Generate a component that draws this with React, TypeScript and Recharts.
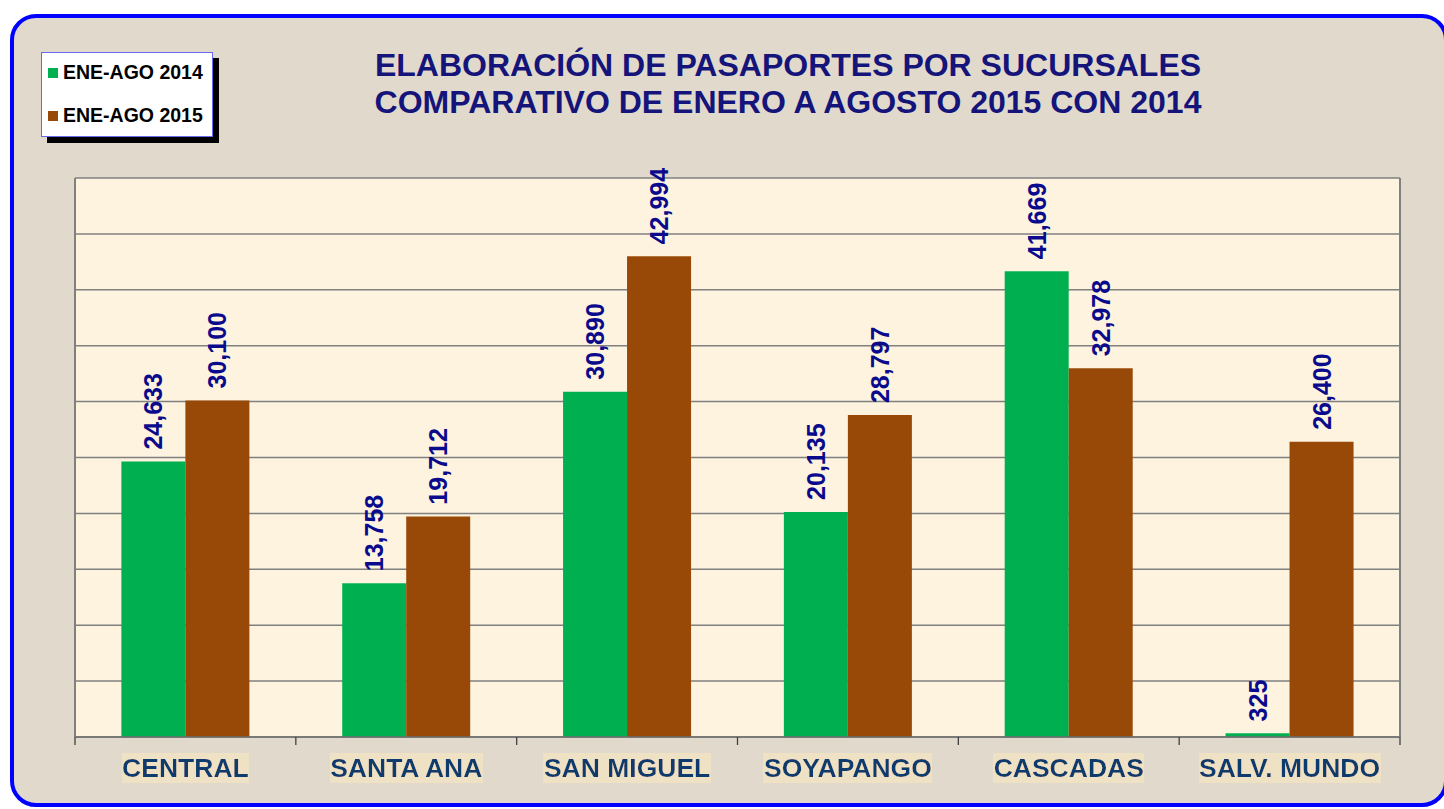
import React from "react";
import {
  BarChart,
  Bar,
  XAxis,
  YAxis,
  CartesianGrid,
  LabelList,
  Legend,
} from "recharts";

const categories = ["CENTRAL", "SANTA ANA", "SAN MIGUEL", "SOYAPANGO", "CASCADAS", "SALV. MUNDO"];
const values2014 = [24633, 13758, 30890, 20135, 41669, 325];
const values2015 = [30100, 19712, 42994, 28797, 32978, 26400];
const yTicks = [0, 5000, 10000, 15000, 20000, 25000, 30000, 35000, 40000, 45000, 50000];
const seriesNames = ["ENE-AGO 2014", "ENE-AGO 2015"];
const titleLines = [
  "ELABORACIÓN DE PASAPORTES POR SUCURSALES",
  "COMPARATIVO DE ENERO A AGOSTO 2015 CON 2014",
];

const data = categories.map((c, i) => ({ name: c, a: values2014[i], b: values2015[i] }));

const GREEN = "#00B050";
const BROWN = "#984807";
const FONT = "'Liberation Sans', Arial, sans-serif";

const fmt = (v: number) => v.toLocaleString("en-US");

const EmptyTick = () => <g />;

const ValueLabel = (props: any) => {
  const { x, y, width, value } = props;
  const cx = x + width / 2;
  const ty = y - 12;
  return (
    <text
      x={cx}
      y={ty}
      transform={`rotate(-90, ${cx}, ${ty})`}
      textAnchor="start"
      dominantBaseline="central"
      fill="#0A0A8C"
      fontFamily={FONT}
      fontWeight="bold"
      fontSize={25}
    >
      {fmt(value)}
    </text>
  );
};

const CatTick = (props: any) => {
  const { x, y, payload, index, width, visibleTicksCount } = props;
  const bw = width / visibleTicksCount;
  const last = index === visibleTicksCount - 1;
  return (
    <g>
      <line x1={x - bw / 2} x2={x - bw / 2} y1={y} y2={y + 8} stroke="#404040" strokeWidth={1.3} />
      {last && <line x1={x + bw / 2} x2={x + bw / 2} y1={y} y2={y + 8} stroke="#404040" strokeWidth={1.3} />}
      <text
        x={x}
        y={y + 40}
        textAnchor="middle"
        fill="#0B3A6E"
        fontFamily={FONT}
        fontWeight="bold"
        fontSize={26.5}
        filter="url(#catbg)"
      >
        {payload.value}
      </text>
    </g>
  );
};

const LegendBox = () => (
  <div
    style={{
      width: 170,
      height: 83,
      background: "#FFFFFF",
      border: "1px solid #6A6AF0",
      boxShadow: "6px 6px 0 #000000",
      fontFamily: FONT,
      fontWeight: "bold",
      fontSize: 19.5,
      color: "#000",
      position: "relative",
    }}
  >
    {seriesNames.map((n, i) => (
      <div
        key={n}
        style={{ position: "absolute", left: 6, top: i === 0 ? 8 : 51, display: "flex", alignItems: "center", whiteSpace: "nowrap" }}
      >
        <span style={{ display: "inline-block", width: 10, height: 10, background: i === 0 ? GREEN : BROWN, marginRight: 5 }} />
        {n}
      </div>
    ))}
  </div>
);

export default function App() {
  return (
    <div style={{ position: "absolute", left: 0, top: 0, width: 1444, height: 809, overflow: "hidden", background: "#FFFFFF" }}>
      <div
        style={{
          position: "absolute",
          left: 10,
          top: 14,
          width: 1438,
          height: 793,
          boxSizing: "border-box",
          border: "4px solid #0000FF",
          borderRadius: 26,
          background: "#E1DACC",
        }}
      />
      <div
        style={{
          position: "absolute",
          left: 238,
          width: 1100,
          top: 47,
          textAlign: "center",
          fontFamily: FONT,
          fontWeight: "bold",
          fontSize: 32,
          lineHeight: "37px",
          color: "#14147A",
        }}
      >
        {titleLines.map((t) => (
          <div key={t}>{t}</div>
        ))}
      </div>
      <div style={{ position: "absolute", left: 0, top: 0 }}>
        <BarChart
          width={1444}
          height={809}
          data={data}
          margin={{ top: 178, right: 43, left: 74, bottom: 22 }}
          barCategoryGap="21%"
          barGap={0}
        >
          <defs>
            <filter id="catbg" x="0" y="0" width="1" height="1">
              <feFlood floodColor="#EEE1C4" />
              <feComposite in="SourceGraphic" operator="over" />
            </filter>
          </defs>
          <CartesianGrid
            vertical={false}
            horizontalValues={yTicks}
            stroke="#808080"
            strokeWidth={1.5}
            fill="#FDF3DF"
            fillOpacity={1}
            xAxisId="cat"
          />
          <XAxis
            xAxisId="cat"
            dataKey="name"
            axisLine={{ stroke: "#6E6E6E", strokeWidth: 1.5 }}
            tickLine={false}
            tickSize={0}
            tickMargin={0}
            height={50}
            interval={0}
            tick={<CatTick />}
          />
          <YAxis
            domain={[0, 50000]}
            ticks={yTicks}
            interval={0}
            tick={EmptyTick}
            width={1}
            axisLine={{ stroke: "#808080", strokeWidth: 2 }}
            tickLine={false}
          />
          <YAxis
            yAxisId="r"
            orientation="right"
            domain={[0, 50000]}
            ticks={yTicks}
            interval={0}
            tick={EmptyTick}
            width={1}
            axisLine={{ stroke: "#808080", strokeWidth: 2 }}
            tickLine={false}
          />
          <Legend
            layout="horizontal"
            verticalAlign="middle"
            align="center"
            wrapperStyle={{ position: "absolute", left: 41, top: 52, width: 172, height: 85 }}
            content={() => <LegendBox />}
          />
          <Bar dataKey="a" name={seriesNames[0]} xAxisId="cat" fill={GREEN} isAnimationActive={false}>
            <LabelList dataKey="a" content={<ValueLabel />} />
          </Bar>
          <Bar dataKey="b" name={seriesNames[1]} xAxisId="cat" fill={BROWN} isAnimationActive={false}>
            <LabelList dataKey="b" content={<ValueLabel />} />
          </Bar>
        </BarChart>
      </div>
    </div>
  );
}
